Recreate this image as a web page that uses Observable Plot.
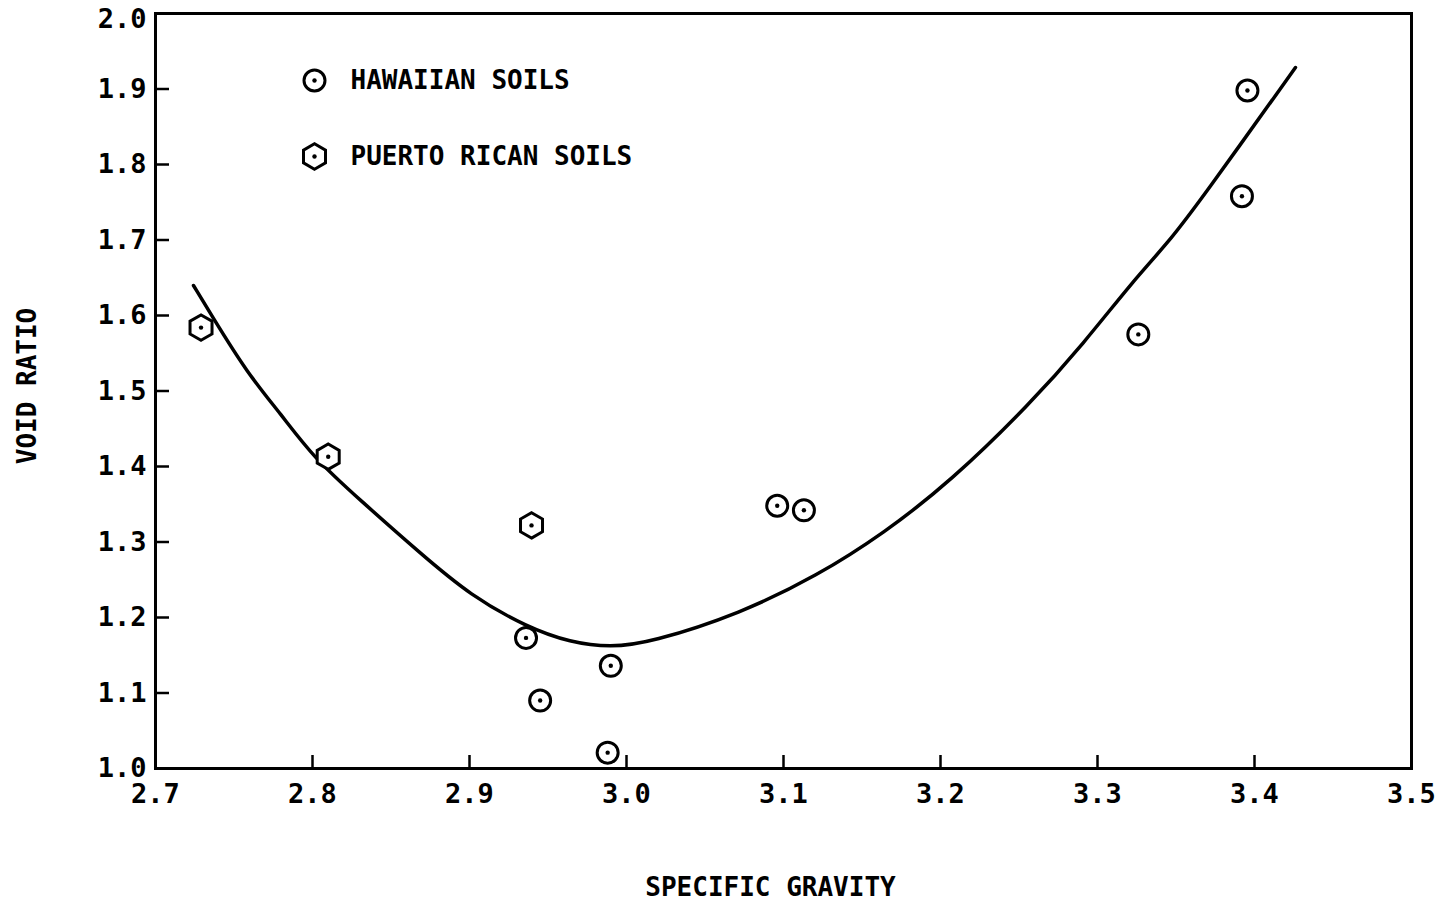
<!DOCTYPE html>
<html><head><meta charset="utf-8">
<script src="https://cdn.jsdelivr.net/npm/d3@7"></script>
<script src="https://cdn.jsdelivr.net/npm/@observablehq/plot@0.6"></script>
<style>
body{margin:0;background:#fff}
svg{font-family:"DejaVu Sans Mono",monospace;font-weight:bold}
</style>
</head><body><div id="chart"></div>
<script>
// Hawaiian soils (circles)
const hawaiianSG = [3.096, 3.113, 3.3955, 3.392, 3.326, 2.936, 2.990, 2.945, 2.988];
const hawaiianE  = [1.348, 1.342, 1.898, 1.758, 1.575, 1.173, 1.136, 1.090, 1.021];
// Puerto Rican soils (hexagons)
const puertoSG = [2.729, 2.810, 2.9395];
const puertoE  = [1.584, 1.413, 1.322];
// Fitted curve
const curveSG = [2.7242, 2.735, 2.7586, 2.7796, 2.8006, 2.8306, 2.8688, 2.9006, 2.9369, 2.9643, 2.9898, 3.0153, 3.0726, 3.1217, 3.1637, 3.2064, 3.2573, 3.2911, 3.3229, 3.3446, 3.3656, 3.4261];
const curveE  = [1.6397, 1.6026, 1.5232, 1.4702, 1.4119, 1.355, 1.2848, 1.2291, 1.1868, 1.1669, 1.1603, 1.1669, 1.2053, 1.2556, 1.3113, 1.3801, 1.4834, 1.5629, 1.6464, 1.6954, 1.7523, 1.9285];
// Ticks
const xTickLabels = [2.7, 2.8, 2.9, 3.0, 3.1, 3.2, 3.3, 3.4, 3.5];
const yTickLabels = [1.0, 1.1, 1.2, 1.3, 1.4, 1.5, 1.6, 1.7, 1.8, 1.9];
const yTopLabel = [2.0];
const xTickMarks = [2.8, 2.9, 3.0, 3.1, 3.2, 3.3, 3.4];
const yTickMarks = [1.1, 1.2, 1.3, 1.4, 1.5, 1.6, 1.7, 1.8, 1.9];
// Legend
const legendLabels = ["HAWAIIAN SOILS", "PUERTO RICAN SOILS"];
const legendSymbols = ["circle", "hexagon"];
const xLabel = "SPECIFIC GRAVITY";
const yLabel = "VOID RATIO";

const hawaiian = hawaiianSG.map((x, i) => ({x, y: hawaiianE[i]}));
const puerto = puertoSG.map((x, i) => ({x, y: puertoE[i]}));
const curve = curveSG.map((x, i) => ({x, y: curveE[i]}));

const W = 1444, H = 905, mL = 155, mR = 33, mT = 13, mB = 137;
const pw = W - mL - mR, ph = H - mT - mB;
const FS = 27;
const fmt = d3.format(".1f");

const legendMarks = legendLabels.flatMap((label, i) => {
  const dy = 67 + i * 76;
  return [
    Plot.dot([label], {frameAnchor: "top-left", dx: 159, dy, symbol: legendSymbols[i], r: legendSymbols[i] === "hexagon" ? 11 : 10.5, stroke: "black", strokeWidth: 3, fill: "white"}),
    Plot.dot([label], {frameAnchor: "top-left", dx: 159, dy, r: 2.2, fill: "black"}),
    Plot.text([label], {frameAnchor: "top-left", dx: 195, dy, text: d => d, textAnchor: "start", lineAnchor: "middle", fontSize: 26, letterSpacing: 1, fill: "black", fontWeight: "bold"})
  ];
});

const chart = Plot.plot({
  width: W, height: H,
  marginLeft: mL, marginRight: mR, marginTop: mT, marginBottom: mB,
  style: {fontFamily: '"DejaVu Sans Mono", monospace', fontSize: FS + "px", color: "black", background: "white"},
  x: {domain: [2.7, 3.5]},
  y: {domain: [1.0, 2.0]},
  marks: [
    Plot.axisX(xTickLabels, {tickSize: 0, tickPadding: 15, tickFormat: fmt, label: null, fontSize: FS, fill: "black"}),
    Plot.axisY(yTickLabels, {tickSize: 0, tickPadding: 9, tickFormat: fmt, label: null, fontSize: FS, fill: "black"}),
    Plot.axisY(yTopLabel, {tickSize: 0, tickPadding: 9, tickFormat: fmt, label: null, fontSize: FS, fill: "black", dy: 6}),
    Plot.tickY(yTickMarks, {y: d => d, stroke: "black", strokeWidth: 2.5, insetRight: pw - 14}),
    Plot.tickX(xTickMarks, {x: d => d, stroke: "black", strokeWidth: 2.5, insetTop: ph - 13}),
    Plot.line(curve, {x: "x", y: "y", curve: "basis", stroke: "black", strokeWidth: 3.5}),
    Plot.dot(hawaiian, {x: "x", y: "y", symbol: "circle", r: 10.5, stroke: "black", strokeWidth: 3, fill: "white"}),
    Plot.dot(hawaiian, {x: "x", y: "y", r: 2.2, fill: "black"}),
    Plot.dot(puerto, {x: "x", y: "y", symbol: "hexagon", r: 11, stroke: "black", strokeWidth: 3, fill: "white"}),
    Plot.dot(puerto, {x: "x", y: "y", r: 2.2, fill: "black"}),
    ...legendMarks,
    Plot.text([xLabel], {frameAnchor: "bottom", dx: -13, dy: 119, text: d => d, lineAnchor: "middle", fontSize: 26, letterSpacing: 1.5, fill: "black", fontWeight: "bold"}),
    Plot.text([yLabel], {frameAnchor: "left", dx: -128, dy: -5, rotate: -90, text: d => d, textAnchor: "middle", lineAnchor: "middle", fontSize: 26, letterSpacing: 1, fill: "black", fontWeight: "bold"}),
    Plot.frame({stroke: "black", strokeWidth: 3})
  ]
});
document.getElementById("chart").appendChild(chart);
</script>
</body></html>
